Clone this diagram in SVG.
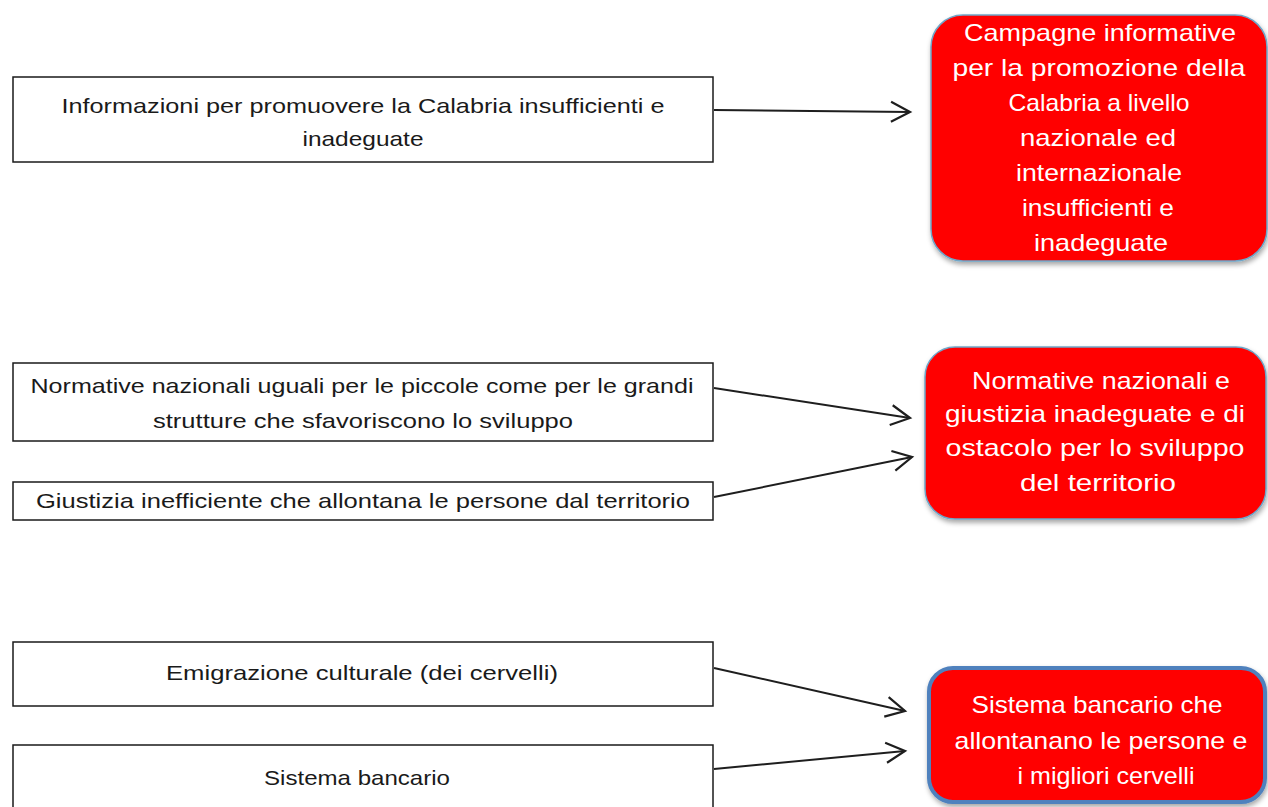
<svg xmlns="http://www.w3.org/2000/svg" width="1268" height="807" viewBox="0 0 1268 807">
<style>
.src rect{fill:#fff;stroke:#1a1a1a;stroke-width:1.5}
.src text{font-family:"Liberation Sans",Arial,sans-serif;font-size:21px;fill:#1a1a1a;text-anchor:middle}
.dst rect{fill:#ff0000;stroke:#6fa6c8;stroke-width:1.5;filter:url(#sh)}
.dst text{font-family:"Liberation Sans",Arial,sans-serif;font-size:24px;fill:#fff;text-anchor:middle}
#conn line{stroke:#1e1e1e;stroke-width:2;fill:none;marker-end:url(#ah)}
</style>
<defs>
<marker id="ah" markerUnits="userSpaceOnUse" markerWidth="30" markerHeight="30" viewBox="-25 -15 30 30" refX="0" refY="0" orient="auto" overflow="visible">
<path d="M-19,-10 L0,0 L-19,10" fill="none" stroke="#1e1e1e" stroke-width="2.2"/>
</marker>
<filter id="sh" x="-10%" y="-10%" width="120%" height="130%">
<feDropShadow dx="1" dy="3" stdDeviation="2.5" flood-color="#000" flood-opacity="0.35"/>
</filter>
</defs>
<rect width="1268" height="807" fill="#fff"/>

<g id="conn">
<line x1="714" y1="110" x2="910" y2="112"/>
<line x1="714" y1="388" x2="910" y2="418"/>
<line x1="714" y1="497" x2="912" y2="457"/>
<line x1="714" y1="668" x2="905" y2="711"/>
<line x1="714" y1="769" x2="905" y2="751"/>
</g>

<g id="s1" class="src">
<rect x="13" y="77" width="700" height="85"/>
<text x="363" y="113" textLength="603" lengthAdjust="spacingAndGlyphs">Informazioni per promuovere la Calabria insufficienti e</text>
<text x="363" y="146" textLength="121" lengthAdjust="spacingAndGlyphs">inadeguate</text>
</g>

<g id="s2" class="src">
<rect x="13" y="363" width="700" height="78"/>
<text x="362" y="393" textLength="663" lengthAdjust="spacingAndGlyphs">Normative nazionali uguali per le piccole come per le grandi</text>
<text x="363" y="428" textLength="420" lengthAdjust="spacingAndGlyphs">strutture che sfavoriscono lo sviluppo</text>
</g>

<g id="s3" class="src">
<rect x="13" y="482" width="700" height="38"/>
<text x="363" y="508" textLength="654" lengthAdjust="spacingAndGlyphs">Giustizia inefficiente che allontana le persone dal territorio</text>
</g>

<g id="s4" class="src">
<rect x="13" y="642" width="700" height="64"/>
<text x="362" y="680" textLength="392" lengthAdjust="spacingAndGlyphs">Emigrazione culturale (dei cervelli)</text>
</g>

<g id="s5" class="src">
<rect x="13" y="745" width="700" height="70"/>
<text x="357" y="785" textLength="186" lengthAdjust="spacingAndGlyphs">Sistema bancario</text>
</g>

<g id="d1" class="dst">
<rect x="931" y="15" width="336" height="246" rx="32" ry="32"/>
<text x="1100" y="41" textLength="272" lengthAdjust="spacingAndGlyphs">Campagne informative</text>
<text x="1099" y="76" textLength="293" lengthAdjust="spacingAndGlyphs">per la promozione della</text>
<text x="1099" y="111" textLength="181" lengthAdjust="spacingAndGlyphs">Calabria a livello</text>
<text x="1098" y="146" textLength="156" lengthAdjust="spacingAndGlyphs">nazionale ed</text>
<text x="1099" y="181" textLength="166" lengthAdjust="spacingAndGlyphs">internazionale</text>
<text x="1098" y="216" textLength="152" lengthAdjust="spacingAndGlyphs">insufficienti e</text>
<text x="1101" y="251" textLength="134" lengthAdjust="spacingAndGlyphs">inadeguate</text>
</g>

<g id="d2" class="dst">
<rect x="925" y="347" width="341" height="172" rx="30" ry="30"/>
<text x="1101" y="389" textLength="258" lengthAdjust="spacingAndGlyphs">Normative nazionali e</text>
<text x="1095" y="422" textLength="300" lengthAdjust="spacingAndGlyphs">giustizia inadeguate e di</text>
<text x="1095" y="456" textLength="299" lengthAdjust="spacingAndGlyphs">ostacolo per lo  sviluppo</text>
<text x="1098" y="491" textLength="156" lengthAdjust="spacingAndGlyphs">del territorio</text>
</g>

<g id="d3" class="dst">
<rect x="929" y="668" width="336" height="134" rx="24" ry="24" style="stroke:#4f81bd;stroke-width:4"/>
<text x="1097" y="713" textLength="251" lengthAdjust="spacingAndGlyphs">Sistema bancario che</text>
<text x="1101" y="749" textLength="293" lengthAdjust="spacingAndGlyphs">allontanano le persone e</text>
<text x="1106" y="784" textLength="177" lengthAdjust="spacingAndGlyphs">i migliori cervelli</text>
</g>
</svg>
